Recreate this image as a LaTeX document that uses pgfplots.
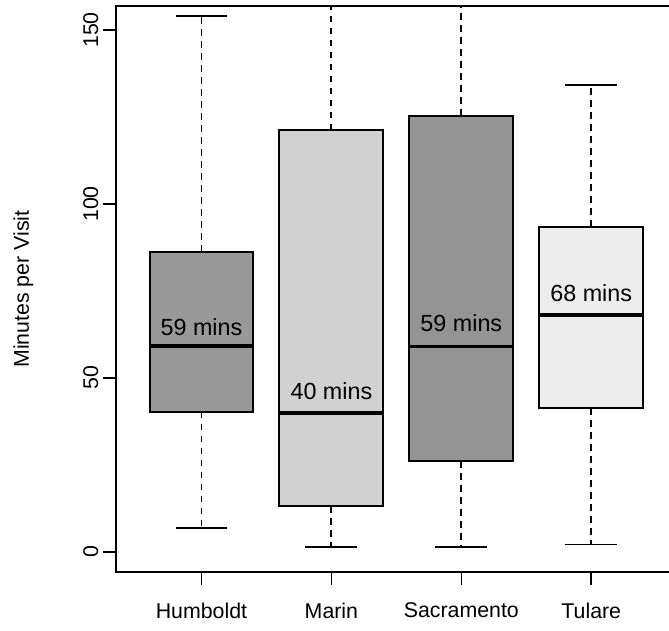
\documentclass[border=0pt]{standalone}
\usepackage{fontspec}
\setmainfont{Liberation Sans}
\usepackage{pgfplots}
\pgfplotsset{compat=1.18}
\definecolor{hum}{gray}{0.60}
\definecolor{mar}{gray}{0.82}
\definecolor{sac}{gray}{0.58}
\definecolor{tul}{gray}{0.93}
\begin{document}
\begin{tikzpicture}
\begin{axis}[
  at={(0,0)}, anchor=south west,
  scale only axis, width=420.75pt, height=424.5pt,
  xmin=0.342, xmax=4.66, ymin=-5.8, ymax=156.9,
  xtick={1,2,3,4}, xticklabels={Humboldt,Marin,Sacramento,Tulare},
  ytick={0,50,100,150},
  tick align=outside, tick pos=left,
  major tick length=9.75pt,
  axis line style={line width=1.2pt},
  major tick style={black, line width=1.2pt},
  /pgf/number format/assume math mode=true,
  tick label style={font=\fontsize{16}{19}\selectfont},
  yticklabel style={rotate=90, anchor=south},
  xticklabel shift=10pt,
  ylabel style={at={(axis description cs:-0.165,0.5)}, rotate=0, anchor=center, font=\fontsize{16}{19}\selectfont},
  ylabel={Minutes per Visit},
  whisk/.style={line width=1.4pt, dash pattern=on 5pt off 4pt},
  cap/.style={line width=1.3pt},
  bx/.style={draw=black, line width=1.5pt, line join=miter},
  med/.style={line width=2.8pt},
]
% Humboldt: whiskers 6.9 / 154.1, box 40.3-86.3, median 59.2
\addplot[whisk] coordinates {(1,40.3) (1,6.9)};
\addplot[whisk] coordinates {(1,86.3) (1,154.1)};
\addplot[cap] coordinates {(0.8,6.9) (1.2,6.9)};
\addplot[cap] coordinates {(0.8,154.1) (1.2,154.1)};
\addplot[bx, fill=hum] coordinates {(0.6,40.3) (1.4,40.3) (1.4,86.3) (0.6,86.3)} --cycle;
\addplot[med] coordinates {(0.6,59.2) (1.4,59.2)};
% Marin: whiskers 1.4 / beyond top, box 13.1-121.2, median 40.0
\addplot[whisk] coordinates {(2,13.1) (2,1.4)};
\addplot[whisk] coordinates {(2,121.2) (2,170)};
\addplot[cap] coordinates {(1.8,1.4) (2.2,1.4)};
\addplot[bx, fill=mar] coordinates {(1.6,13.1) (2.4,13.1) (2.4,121.2) (1.6,121.2)} --cycle;
\addplot[med] coordinates {(1.6,40.0) (2.4,40.0)};
% Sacramento: whiskers 1.4 / beyond top, box 26.1-125.4, median 59.0
\addplot[whisk] coordinates {(3,26.1) (3,1.4)};
\addplot[whisk] coordinates {(3,125.4) (3,170)};
\addplot[cap] coordinates {(2.8,1.4) (3.2,1.4)};
\addplot[bx, fill=sac] coordinates {(2.6,26.1) (3.4,26.1) (3.4,125.4) (2.6,125.4)} --cycle;
\addplot[med] coordinates {(2.6,59.0) (3.4,59.0)};
% Tulare: whiskers 2.1 / 134.1, box 41.3-93.4, median 68.0
\addplot[whisk] coordinates {(4,41.3) (4,2.1)};
\addplot[whisk] coordinates {(4,93.4) (4,134.1)};
\addplot[cap] coordinates {(3.8,2.1) (4.2,2.1)};
\addplot[cap] coordinates {(3.8,134.1) (4.2,134.1)};
\addplot[bx, fill=tul] coordinates {(3.6,41.3) (4.4,41.3) (4.4,93.4) (3.6,93.4)} --cycle;
\addplot[med] coordinates {(3.6,68.0) (4.4,68.0)};
\node[font=\fontsize{17.5}{20}\selectfont] at (axis cs:1,64.6) {59 mins};
\node[font=\fontsize{17.5}{20}\selectfont] at (axis cs:2,46.3) {40 mins};
\node[font=\fontsize{17.5}{20}\selectfont] at (axis cs:3,65.6) {59 mins};
\node[font=\fontsize{17.5}{20}\selectfont] at (axis cs:4,74.4) {68 mins};
\end{axis}
\pgfresetboundingbox
\path[use as bounding box] (-87pt,-44.25pt) rectangle (414.75pt,429pt);
\end{tikzpicture}
\end{document}
